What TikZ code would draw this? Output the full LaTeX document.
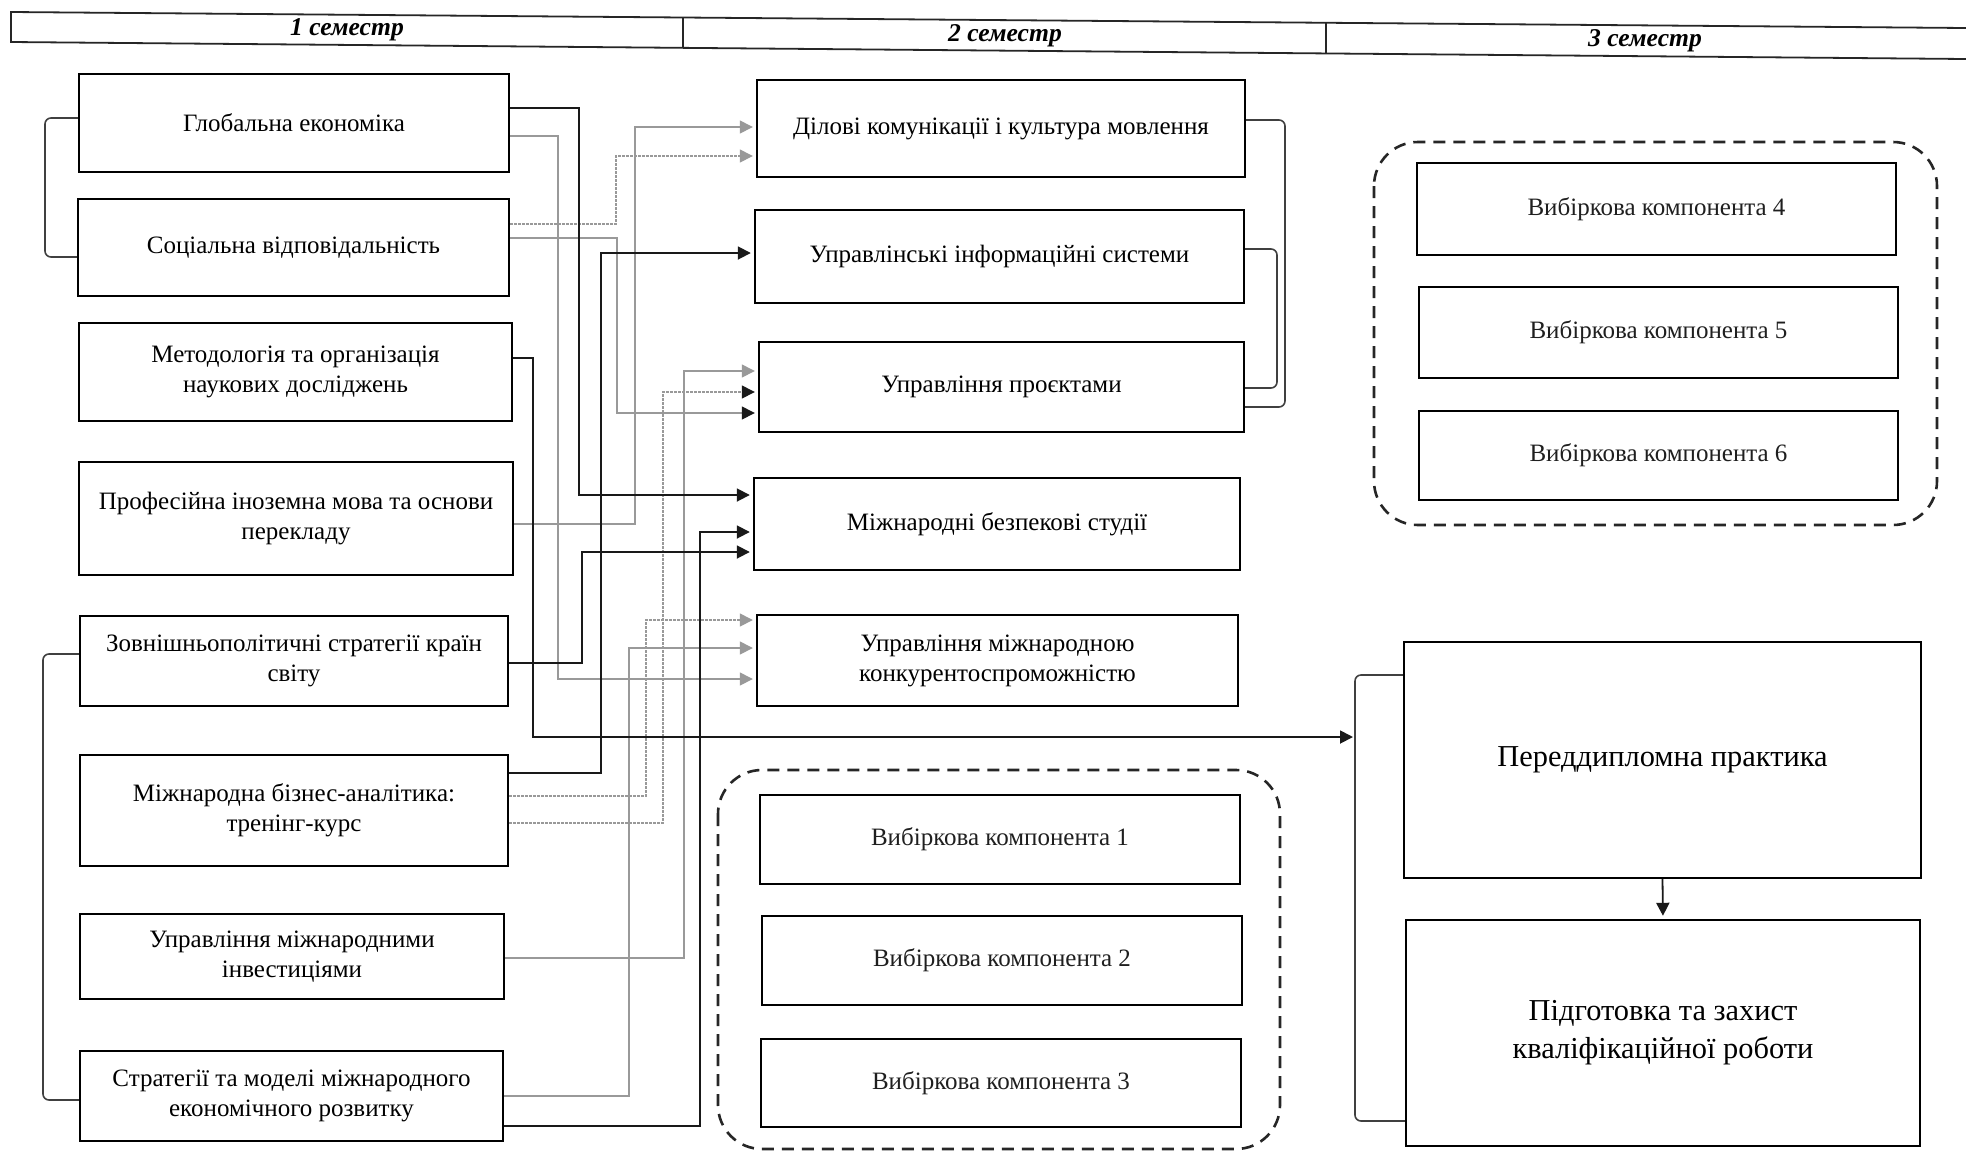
\documentclass[tikz,border=0pt]{standalone}
\usepackage{fontspec}
\setmainfont{Liberation Serif}
\usetikzlibrary{arrows.meta}
\newcommand\mkbox[7]{\node[#1, minimum width={(#5-#3)*0.5pt}, minimum height={(#6-#4)*0.5pt}] (#2) at ({(#3+#5)/2},{(#4+#6)/2}) {#7};}
\begin{document}
\begin{tikzpicture}[x=0.5pt,y=-0.5pt,
 box/.style={draw=black, line width=1.2pt, fill=white, align=center, inner sep=2pt, font=\fontsize{12.5}{15}\selectfont},
 vbox/.style={box, text=black!88},
 bigbox/.style={box, font=\fontsize{15.2}{19}\selectfont},
 grp/.style={draw=black!85, line width=1.3pt, dash pattern=on 6pt off 4pt, rounded corners=22pt},
 blk/.style={draw=black!90, line width=0.9pt, shorten >=1.5pt, -{Triangle[length=6.5pt,width=6.5pt]}},
 gry/.style={draw=black!40, line width=0.7pt, shorten >=1.5pt, -{Triangle[length=6.5pt,width=6.5pt]}},
 gryb/.style={draw=black!40, line width=0.7pt, shorten >=1.5pt, -{Triangle[length=6.5pt,width=6.5pt,color=black!90]}},
 dotln/.style={dash pattern=on 1.2pt off 0.8pt},
 brk/.style={draw=black!75, line width=0.8pt, rounded corners=3pt},
 hdr/.style={font=\fontsize{12.8}{15}\selectfont\bfseries\itshape},
 hdrline/.style={draw=black!85, line width=0.9pt}
]
\fill[white] (0,0) rectangle (1966,1152);
\useasboundingbox (0,0) rectangle (1966,1152);

% header
\draw[hdrline] (1966,28) -- (11,12) -- (11,42) -- (1966,59);
\draw[hdrline] (683,17.5) -- (683,47.8);
\draw[hdrline] (1326,22.8) -- (1326,53.4);
\node[hdr] (h1) at (347,30) {1 семестр};
\node[hdr] (h2) at (1005,36) {2 семестр};
\node[hdr] (h3) at (1645,41) {3 семестр};

% dashed groups
\draw[grp] (718,770) rectangle (1280,1149);
\draw[grp] (1374,142) rectangle (1937,525);

% left column
\mkbox{box}{L1}{79}{74}{509}{172}{Глобальна економіка}
\mkbox{box}{L2}{78}{199}{509}{296}{Соціальна відповідальність}
\mkbox{box}{L3}{79}{323}{512}{421}{Методологія та організація\\наукових досліджень}
\mkbox{box}{L4}{79}{462}{513}{575}{Професійна іноземна мова та основи\\перекладу}
\mkbox{box}{L5}{80}{616}{508}{706}{Зовнішньополітичні стратегії країн\\світу}
\mkbox{box}{L6}{80}{755}{508}{866}{Міжнародна бізнес-аналітика:\\тренінг-курс}
\mkbox{box}{L7}{80}{914}{504}{999}{Управління міжнародними\\інвестиціями}
\mkbox{box}{L8}{80}{1051}{503}{1141}{Стратегії та моделі міжнародного\\економічного розвитку}

% middle column
\mkbox{box}{M1}{757}{80}{1245}{177}{Ділові комунікації і культура мовлення}
\mkbox{box}{M2}{755}{210}{1244}{303}{Управлінські інформаційні системи}
\mkbox{box}{M3}{759}{342}{1244}{432}{Управління проєктами}
\mkbox{box}{M4}{754}{478}{1240}{570}{Міжнародні безпекові студії}
\mkbox{box}{M5}{757}{615}{1238}{706}{Управління міжнародною\\конкурентоспроможністю}
\mkbox{vbox}{V1}{760}{795}{1240}{884}{Вибіркова компонента 1}
\mkbox{vbox}{V2}{762}{916}{1242}{1005}{Вибіркова компонента 2}
\mkbox{vbox}{V3}{761}{1039}{1241}{1127}{Вибіркова компонента 3}

% right column
\mkbox{vbox}{V4}{1417}{163}{1896}{255}{Вибіркова компонента 4}
\mkbox{vbox}{V5}{1419}{287}{1898}{378}{Вибіркова компонента 5}
\mkbox{vbox}{V6}{1419}{411}{1898}{500}{Вибіркова компонента 6}
\mkbox{bigbox}{P}{1404}{642}{1921}{878}{Переддипломна практика}
\mkbox{bigbox}{Q}{1406}{920}{1920}{1146}{Підготовка та захист\\кваліфікаційної роботи}

% brackets
\draw[brk] (L1.west|-0,118) -- (45,118) -- (45,257) -- (L2.west|-0,257);
\draw[brk] (L5.west|-0,654) -- (43,654) -- (43,1100) -- (L8.west|-0,1100);
\draw[brk] (M1.east|-0,120) -- (1285,120) -- (1285,407) -- (M3.east|-0,407);
\draw[brk] (M2.east|-0,249) -- (1277,249) -- (1277,388) -- (M3.east|-0,388);
\draw[brk] (P.west|-0,675) -- (1355,675) -- (1355,1121) -- (Q.west|-0,1121);
\coordinate (pb) at (1356,737);

% connectors
\draw[gry] (L1.east|-0,136) -| (558,679) -- (M5.west|-0,679);
\draw[gry,dotln] (L2.east|-0,224) -| (616,156) -- (M1.west|-0,156);
\draw[gryb] (L2.east|-0,238) -| (617,413) -- (M3.west|-0,413);
\draw[gry] (L4.east|-0,524) -| (635,127) -- (M1.west|-0,127);
\draw[gry,dotln] (L6.east|-0,796) -| (646,620) -- (M5.west|-0,620);
\draw[gryb,dotln] (L6.east|-0,823) -| (663,392) -- (M3.west|-0,392);
\draw[gry] (L7.east|-0,958) -| (684,371) -- (M3.west|-0,371);
\draw[gry] (L8.east|-0,1096) -| (629,648) -- (M5.west|-0,648);
\draw[blk] (L1.east|-0,108) -| (579,495) -- (M4.west|-0,495);
\draw[blk] (L3.east|-0,358) -| (533,737) -- (pb);
\draw[blk] (L5.east|-0,663) -| (582,552) -- (M4.west|-0,552);
\draw[blk] (L6.east|-0,773) -| (601,253) -- (M2.west|-0,253);
\draw[blk] (L8.east|-0,1126) -| (700,532) -- (M4.west|-0,532);
\draw[blk] (P.south) -- (Q.north);
\end{tikzpicture}
\end{document}
